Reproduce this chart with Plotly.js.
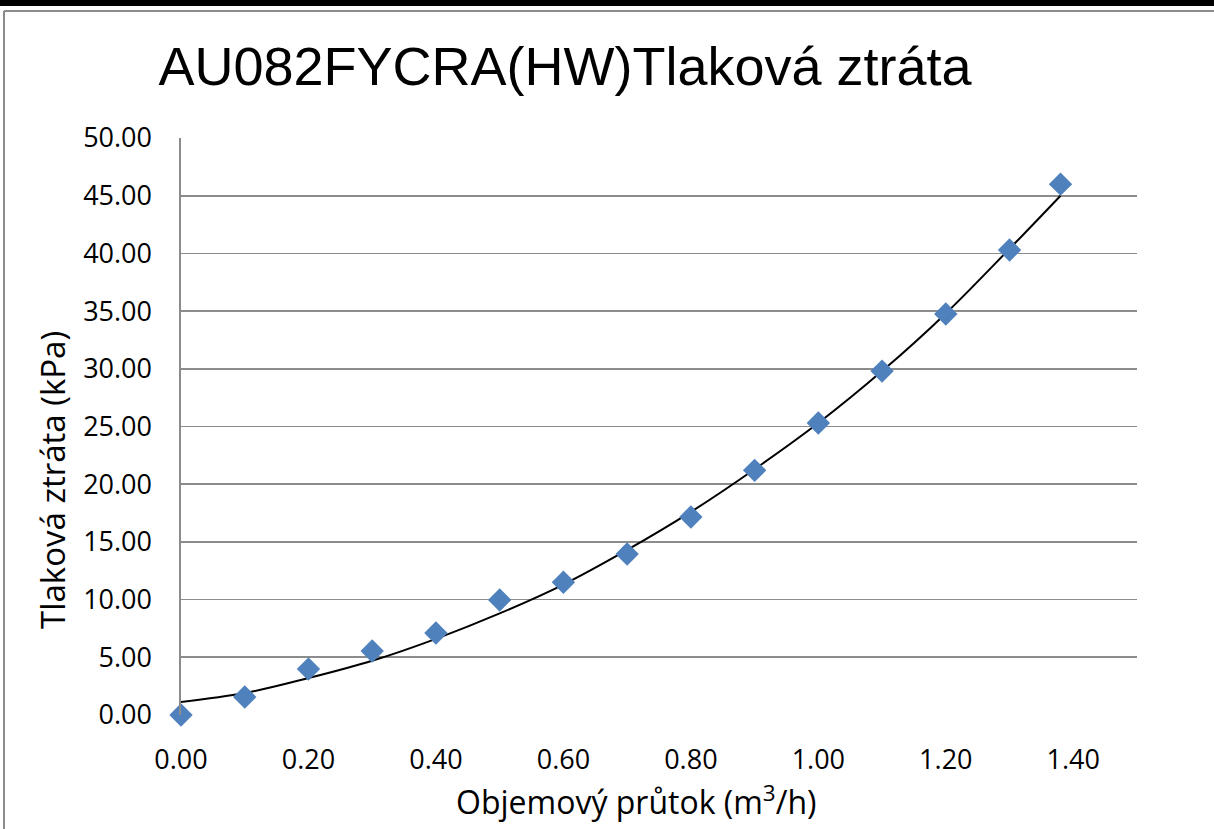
<!DOCTYPE html>
<html>
<head>
<meta charset="utf-8">
<script src="https://cdn.plot.ly/plotly-3.0.1.min.js"></script>
<style>html,body{margin:0;padding:0;background:#fff;}#chart{width:1214px;height:829px;}</style>
</head>
<body>
<div id="chart"></div>
<script>
// Measured points: flow (m3/h) and pressure loss (kPa)
const flow = [0, 0.1, 0.2, 0.3, 0.4, 0.5, 0.6, 0.7, 0.8, 0.9, 1.0, 1.1, 1.2, 1.3, 1.38];
const pressureLoss = [0, 1.56, 3.99, 5.55, 7.1, 9.97, 11.5, 13.95, 17.16, 21.2, 25.3, 29.8, 34.75, 40.3, 46.0];
// Trend line
const trendFlow = [0, 0.1, 0.2, 0.3, 0.4, 0.5, 0.6, 0.7, 0.8, 0.9, 1.0, 1.1, 1.2, 1.3, 1.38];
const trendLoss = [1.13, 1.9, 3.2, 4.7, 6.6, 8.8, 11.3, 14.3, 17.6, 21.3, 25.3, 29.8, 34.8, 40.4, 45.0];
const xTickVals = [0, 0.2, 0.4, 0.6, 0.8, 1.0, 1.2, 1.4];
const yTickVals = [0, 5, 10, 15, 20, 25, 30, 35, 40, 45, 50];

const chartTitle = 'AU082FYCRA(HW)Tlaková ztráta';
const xTitle = 'Objemový průtok (m<sup>3</sup>/h)';
const yTitle = 'Tlaková ztráta (kPa)';

const L = 181, R = 77, T = 138, B = 114, W = 1214, H = 829;
const pw = W - L - R, ph = H - T - B;
const px = v => (v - L) / pw;
const py = v => (H - B - v) / ph;

const FONT = 'Open Sans, DejaVu Sans, sans-serif';

const data = [
  {
    x: trendFlow, y: trendLoss, type: 'scatter', mode: 'lines',
    line: {color: '#000000', width: 2, shape: 'spline', smoothing: 1},
    hoverinfo: 'skip', showlegend: false
  },
  {
    x: flow, y: pressureLoss, type: 'scatter', mode: 'markers',
    marker: {symbol: 'diamond', size: 18, color: '#4F81BD', line: {width: 0}},
    cliponaxis: false, showlegend: false
  }
];

const gridColor = '#8c8c8c';
const layout = {
  width: W, height: H,
  margin: {l: L, r: R, t: T, b: B},
  paper_bgcolor: '#ffffff', plot_bgcolor: '#ffffff',
  font: {family: FONT, color: '#000000'},
  title: {
    text: chartTitle,
    font: {family: 'Liberation Sans, Arial, sans-serif', size: 54, color: '#000000'},
    xref: 'container', yref: 'container', x: 565 / W, y: 1 - 66 / H,
    xanchor: 'center', yanchor: 'middle'
  },
  xaxis: {
    range: [0, 1.5], tickvals: xTickVals, tickformat: '.2f',
    showgrid: false, zeroline: false, showline: false,
    ticks: 'outside', ticklen: 21, tickcolor: 'rgba(0,0,0,0)',
    tickfont: {size: 27, family: FONT},
    fixedrange: true
  },
  yaxis: {
    range: [0, 50], tickvals: yTickVals, tickformat: '.2f',
    showgrid: true, gridcolor: gridColor, gridwidth: 1.6,
    zeroline: false, showline: true, linecolor: gridColor, linewidth: 1.6,
    ticks: 'outside', ticklen: 22, tickcolor: 'rgba(0,0,0,0)',
    tickfont: {size: 27, family: FONT},
    fixedrange: true
  },
  annotations: [
    {text: yTitle, xref: 'paper', yref: 'paper', x: px(52), y: py(480),
     xanchor: 'center', yanchor: 'middle', textangle: -90, showarrow: false,
     font: {size: 33, family: FONT, color: '#000000'}},
    {text: xTitle, xref: 'paper', yref: 'paper', x: px(636), y: py(800),
     xanchor: 'center', yanchor: 'middle', showarrow: false,
     font: {size: 32, family: FONT, color: '#000000'}}
  ],
  shapes: [
    {type: 'rect', xref: 'paper', yref: 'paper', x0: px(0), x1: px(W), y0: py(0), y1: py(6),
     fillcolor: '#000000', line: {width: 0}, layer: 'above'},
    {type: 'line', xref: 'paper', yref: 'paper', x0: px(4), x1: px(W), y0: py(11), y1: py(11),
     line: {color: '#8c8c8c', width: 2}, layer: 'above'},
    {type: 'line', xref: 'paper', yref: 'paper', x0: px(4), x1: px(4), y0: py(11), y1: py(H),
     line: {color: '#8c8c8c', width: 2}, layer: 'above'}
  ]
};

Plotly.newPlot('chart', data, layout, {displayModeBar: false, staticPlot: true});
</script>
</body>
</html>
